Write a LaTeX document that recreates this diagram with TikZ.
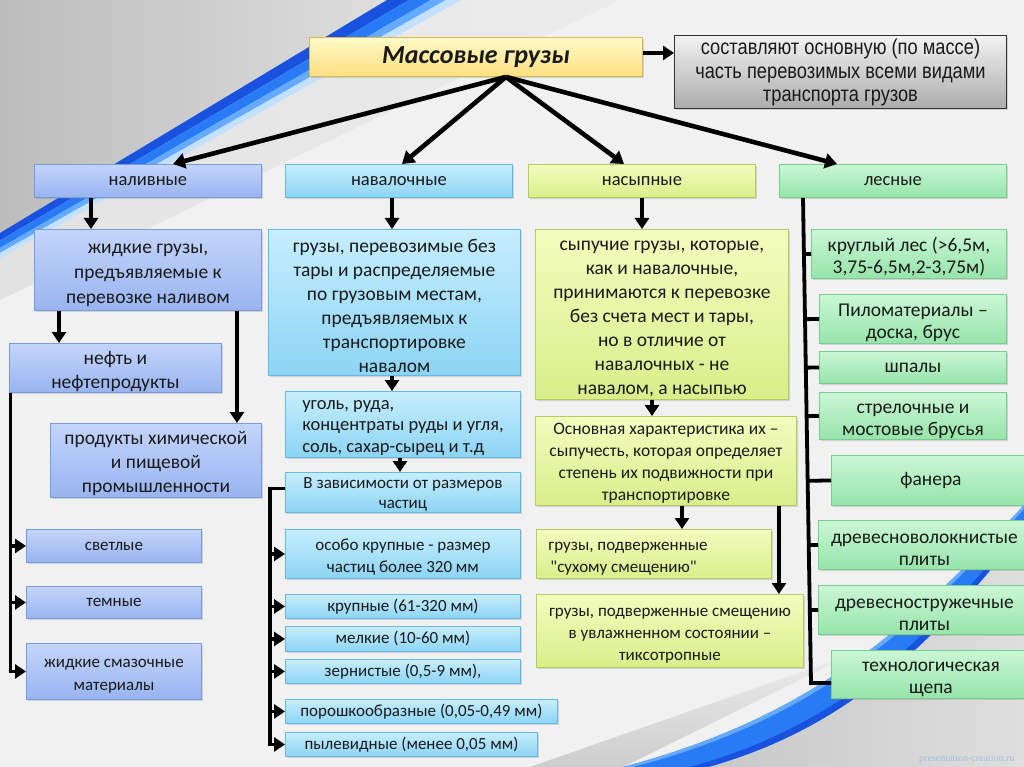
\documentclass[tikz,border=0pt]{standalone}
\usepackage{fontspec}
\setmainfont{Carlito}[Ligatures=TeXOff]
\newfontfamily\narrowfont[FakeStretch=0.85]{Liberation Sans}
\newfontfamily\wmfont{Liberation Serif}
\usetikzlibrary{arrows.meta,shadows,calc}
\definecolor{bgbase}{HTML}{F1F1F1}
\definecolor{txt}{HTML}{1A1A1A}
\definecolor{bgdark}{HTML}{BCBCBC}
\definecolor{bgmid}{HTML}{DEDEDE}
\definecolor{bgwedge}{HTML}{E2E2E2}
\definecolor{bgwedgeb}{HTML}{ECECEC}
\definecolor{stA}{HTML}{1852DE}
\definecolor{stB}{HTML}{287AF5}
\definecolor{stC}{HTML}{64AAFF}
\definecolor{stD}{HTML}{C4E0FF}
\definecolor{brgA}{HTML}{C8C8C8}
\definecolor{brgB}{HTML}{DEDEDE}
\definecolor{bwA}{HTML}{ECECEC}
\definecolor{bwB}{HTML}{CDCDCD}
\definecolor{wmcol}{HTML}{A0BEDC}
\definecolor{blT}{HTML}{C4D5FB}
\definecolor{blB}{HTML}{98B4F0}
\definecolor{blD}{HTML}{789BDE}
\definecolor{cyT}{HTML}{C6EEFE}
\definecolor{cyB}{HTML}{8CD4F4}
\definecolor{cyD}{HTML}{64B9E6}
\definecolor{yeT}{HTML}{F3FCBE}
\definecolor{yeB}{HTML}{DAEE8A}
\definecolor{yeD}{HTML}{B4CC60}
\definecolor{grT}{HTML}{CAF7D5}
\definecolor{grB}{HTML}{96E4AA}
\definecolor{grD}{HTML}{7ACD91}
\definecolor{tiT}{HTML}{FFF9C8}
\definecolor{tiB}{HTML}{FFE080}
\definecolor{tiD}{HTML}{D7B955}
\definecolor{gyT}{HTML}{F2F2F2}
\definecolor{gyB}{HTML}{ACACAC}
\definecolor{gyD}{HTML}{323232}
\newcommand\fs[2]{\fontsize{#1}{#2}\selectfont}
\newcommand\fl[1][1.0em]{\rule{0pt}{#1}}
\newcommand\mybox[7]{\node[#2,anchor=north west,minimum width={(#5-#3)*1pt},minimum height={(#6-#4)*1pt}] (#1) at (#3,#4) {#7};}
\tikzset{
  boxbase/.style={rectangle, line width=0.9pt, inner xsep=2pt, inner ysep=1pt, align=center, text=txt,
     drop shadow={opacity=0.28, shadow xshift=2pt, shadow yshift=-2pt}},
  cblue/.style={boxbase, top color=blT, bottom color=blB, draw=blD},
  ccyan/.style={boxbase, top color=cyT, bottom color=cyB, draw=cyD},
  cyel/.style={boxbase, top color=yeT, bottom color=yeB, draw=yeD},
  cgreen/.style={boxbase, top color=grT, bottom color=grB, draw=grD},
  ctitle/.style={boxbase, top color=tiT, bottom color=tiB, draw=tiD},
  cgray/.style={boxbase, top color=gyT, bottom color=gyB, draw=gyD},
  arr/.style={line width=3.6pt, -{Triangle[length=11pt,width=14pt]}},
  fanarr/.style={line width=4.6pt, -{Triangle[length=12pt,width=15pt]}},
  ln/.style={line width=3.8pt},
}
\begin{document}
\begin{tikzpicture}[x=1pt,y=-1pt]
\useasboundingbox (0,0) rectangle (1024,767);
% ---------- background ----------
\fill[bgbase] (0,0) rectangle (1024,767);
\shade[left color=bgdark, right color=bgmid] (0,0) -- (390,0) -- (0,234) -- cycle;
\shade[left color=bgwedge, right color=bgwedgeb] (455,0) -- (620,0) -- (0,300) -- (0,255) -- cycle;
\fill[stA] (387,0) -- (409,0) -- (0,240.5) -- (0,233) -- cycle;
\fill[stB] (409,0) -- (431,0) -- (0,248) -- (0,240.5) -- cycle;
\fill[stC] (431,0) -- (446,0) -- (0,253) -- (0,248) -- cycle;
\fill[stD] (446,0) -- (461,0) -- (0,258) -- (0,253) -- cycle;
% bottom right
\shade[top color=bwA, bottom color=bwB] (530,767) -- (850,655) -- (623,767) -- cycle;
\shade[left color=brgA, right color=brgB] (1024,528) .. controls (930,650) and (840,730) .. (708,767) -- (1024,767) -- cycle;
\fill[stB] (1024,505) .. controls (900,640) and (800,720) .. (623,767) -- (708,767) .. controls (840,730) and (930,650) .. (1024,528) -- cycle;
\fill[stA] (1024,522) .. controls (925,645) and (835,727) .. (690,767) -- (708,767) .. controls (840,730) and (930,650) .. (1024,528) -- cycle;
\fill[stC] (1024,505) .. controls (900,640) and (800,720) .. (623,767) -- (633,767) .. controls (805,722) and (903,642) .. (1024,509) -- cycle;
\node[font=\wmfont\fs{10}{12}, text=wmcol, anchor=east] (wm) at (1018,759) {presentation-creation.ru};
% ---------- top ----------
\mybox{title}{ctitle,font=\fs{26}{30}\bfseries\itshape}{309}{37}{642}{76}{Массовые грузы}
\mybox{gray}{cgray,font=\narrowfont\fs{21.5}{23.5}}{674}{35}{1006}{108}{\fl[17.5pt]составляют основную (по массе)\\часть перевозимых всеми видами\\транспорта грузов}
\mybox{nal}{cblue,font=\fs{18.5}{22}}{34}{164}{261}{197}{наливные}
\mybox{nav}{ccyan,font=\fs{18.5}{22}}{285}{164}{512}{197}{навалочные}
\mybox{nas}{cyel,font=\fs{18.5}{22}}{528}{164}{755}{197}{насыпные}
\mybox{les}{cgreen,font=\fs{18.5}{22}}{779}{164}{1006}{197}{лесные}
% ---------- column 1 ----------
\mybox{zhid}{cblue,font=\fs{19.5}{25}}{34}{229}{261}{310}{\fl жидкие грузы,\\предъявляемые к\\перевозке наливом}
\mybox{neft}{cblue,font=\fs{19.5}{24}}{9}{343}{221}{392}{\fl нефть и\\нефтепродукты}
\mybox{prod}{cblue,font=\fs{19.5}{24}}{50}{423}{261}{497}{\fl продукты химической\\и пищевой\\промышленности}
\mybox{svet}{cblue,font=\fs{17}{21}}{26}{529}{201}{562}{светлые}
\mybox{temn}{cblue,font=\fs{17}{21}}{26}{586}{201}{618}{темные}
\mybox{sm}{cblue,font=\fs{17}{23}}{26}{643}{201}{699}{\fl жидкие смазочные\\материалы}
% ---------- column 2 ----------
\mybox{gruzy}{ccyan,font=\fs{19.5}{24}}{268}{229}{520}{375}{\fl грузы, перевозимые без\\тары и распределяемые\\по грузовым местам,\\предъявляемых к\\транспортировке\\навалом}
\mybox{ugol}{ccyan,align=flush left,font=\fs{18.5}{21.5}}{285}{391}{520}{457}{\fl[16pt]уголь, руда,\\концентраты руды и угля,\\соль, сахар-сырец и т.д}
\mybox{vzav}{ccyan,font=\fs{17}{20}}{285}{472}{520}{512}{\fl[14pt]В зависимости от размеров\\частиц}
\mybox{osobo}{ccyan,font=\fs{17}{22}}{285}{529}{520}{578}{\fl особо крупные - размер\\частиц более 320 мм}
\mybox{krup}{ccyan,font=\fs{17}{20}}{285}{594}{520}{618}{крупные (61-320 мм)}
\mybox{melk}{ccyan,font=\fs{17}{20}}{285}{626}{520}{651}{мелкие (10-60 мм)}
\mybox{zern}{ccyan,font=\fs{17}{20}}{285}{659}{520}{683}{зернистые (0,5-9 мм),}
\mybox{por}{ccyan,font=\fs{17}{20}}{285}{699}{557}{723}{порошкообразные (0,05-0,49 мм)}
\mybox{pyl}{ccyan,font=\fs{17}{20}}{285}{732}{537}{756}{пылевидные (менее 0,05 мм)}
% ---------- column 3 ----------
\mybox{syp}{cyel,font=\fs{19.5}{24}}{535}{229}{788}{399}{\fl сыпучие грузы, которые,\\как и навалочные,\\принимаются к перевозке\\без счета мест и тары,\\но в отличие от\\навалочных - не\\навалом, а насыпью}
\mybox{osn}{cyel,font=\fs{17.5}{22}}{535}{416}{796}{505}{\fl[16.5pt]Основная характеристика их –\\сыпучесть, которая определяет\\степень их подвижности при\\транспортировке}
\mybox{suh}{cyel,align=flush left,text width=211pt,font=\fs{17}{22}}{536}{529}{771}{578}{\fl грузы, подверженные\\\hspace*{2pt}"сухому смещению"}
\mybox{uvl}{cyel,font=\fs{17}{22}}{536}{594}{803}{667}{\fl грузы, подверженные смещению\\в увлажненном состоянии –\\тиксотропные}
% ---------- column 4 ----------
\mybox{kr}{cgreen,font=\fs{19.5}{22}}{811}{229}{1006}{278}{\fl круглый лес (>6,5м,\\3,75-6,5м,2-3,75м)}
\mybox{pil}{cgreen,font=\fs{19.5}{22}}{819}{294}{1006}{343}{\fl Пиломатериалы –\\доска, брус}
\mybox{shp}{cgreen,font=\fs{19.5}{22}}{819}{351}{1006}{383}{шпалы}
\mybox{str}{cgreen,font=\fs{19.5}{22}}{819}{392}{1006}{439}{\fl стрелочные и\\мостовые брусья}
\mybox{fan}{cgreen,font=\fs{19.5}{22}}{831}{455}{1030}{505}{фанера}
\mybox{dvp}{cgreen,font=\fs{19.5}{22}}{818}{520}{1030}{569}{\fl древесноволокнистые\\плиты}
\mybox{dsp}{cgreen,font=\fs{19.5}{22}}{818}{585}{1030}{634}{\fl древесностружечные\\плиты}
\mybox{shch}{cgreen,font=\fs{19.5}{22}}{831}{650}{1030}{698}{\fl технологическая\\щепа}
% ---------- connectors ----------
\draw[arr] ([yshift=4pt]title.east) -- ([yshift=4pt]title.east -| gray.west);
\coordinate (fan0) at ([xshift=30pt]title.south);
\draw[fanarr] (fan0) -- (173,0 |- nal.north);
\draw[fanarr] (fan0) -- (402,0 |- nav.north);
\draw[fanarr] (fan0) -- (624,0 |- nas.north);
\draw[fanarr] (fan0) -- (837,0 |- les.north);
% column 1
\draw[arr] (91,0 |- nal.south) -- (91,0 |- zhid.north);
\draw[arr] (59,0 |- zhid.south) -- (59,0 |- neft.north);
\draw[arr] (237,0 |- zhid.south) -- (237,0 |- prod.north);
\draw[arr] ([xshift=1.5pt]neft.south west) |- (sm.west);
\draw[arr] (10.5,0 |- svet.west) -- (svet.west);
\draw[arr] (10.5,0 |- temn.west) -- (temn.west);
% column 2
\draw[arr] (392,0 |- nav.south) -- (392,0 |- gruzy.north);
\draw[arr] (392,0 |- gruzy.south) -- (392,0 |- ugol.north);
\draw[arr] (400,0 |- ugol.south) -- (400,0 |- vzav.north);
\draw[arr] ([yshift=4pt]vzav.west) -| (270,0 |- pyl.west) -- (pyl.west);
\foreach \n in {osobo,krup,melk,zern,por}{\draw[arr] (270,0 |- \n.west) -- (\n.west);}
% column 3
\draw[arr] (642,0 |- nas.south) -- (642,0 |- syp.north);
\draw[arr] (652,0 |- syp.south) -- (652,0 |- osn.north);
\draw[arr] (682,0 |- osn.south) -- (682,0 |- suh.north);
\draw[arr] (779,0 |- osn.south) -- (779,0 |- uvl.north);
% column 4
\coordinate (lt) at (803,0 |- les.south);
\coordinate (lb) at (811,683);
\draw[ln] (lt) -- (lb) -- (lb -| shch.west);
\foreach \n in {kr,pil,shp,str,fan,dvp,dsp}{\draw[ln] ($(lt)!(\n.west)!(lb)$) -- (\n.west);}
\end{tikzpicture}
\end{document}
